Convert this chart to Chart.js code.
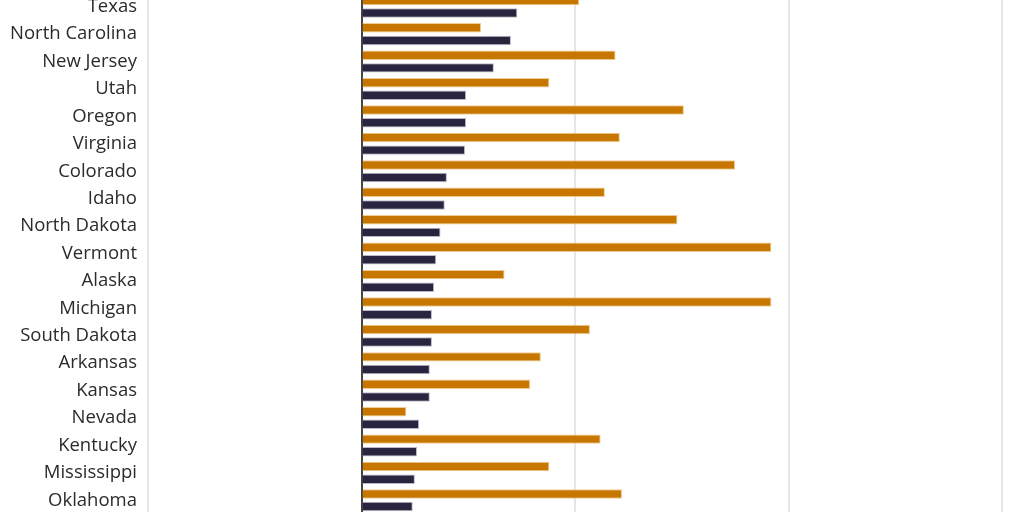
<!DOCTYPE html>
<html>
<head>
<meta charset="utf-8">
<script src="https://cdn.jsdelivr.net/npm/chart.js@4"></script>
<style>
  html, body { margin: 0; padding: 0; background: #fff; overflow: hidden; }
  #wrap { position: absolute; left: 0; top: -7px; width: 1024px; height: 521px; }
</style>
</head>
<body>
<div id="wrap"><canvas id="chart"></canvas></div>
<script>
  const states = ['Texas', 'North Carolina', 'New Jersey', 'Utah', 'Oregon', 'Virginia', 'Colorado',
    'Idaho', 'North Dakota', 'Vermont', 'Alaska', 'Michigan', 'South Dakota', 'Arkansas', 'Kansas',
    'Nevada', 'Kentucky', 'Mississippi', 'Oklahoma'];
  const orangeValues = [10.2, 5.6, 11.9, 8.8, 15.1, 12.1, 17.5, 11.4, 14.8, 19.2, 6.7, 19.2, 10.7,
    8.4, 7.9, 2.1, 11.2, 8.8, 12.2];
  const darkValues = [7.3, 7.0, 6.2, 4.9, 4.9, 4.85, 4.0, 3.9, 3.7, 3.5, 3.4, 3.3, 3.3,
    3.2, 3.2, 2.7, 2.6, 2.5, 2.4];
  const xTicks = [-10, 0, 10, 20, 30];

  const ctx = document.getElementById('chart').getContext('2d');
  new Chart(ctx, {
    type: 'bar',
    data: {
      labels: states,
      datasets: [
        {
          label: 'Series 1',
          data: orangeValues,
          backgroundColor: '#c77700',
          borderColor: 'rgba(236, 190, 120, 0.8)',
          borderWidth: 1,
          categoryPercentage: 0.92,
          barPercentage: 0.75
        },
        {
          label: 'Series 2',
          data: darkValues,
          backgroundColor: '#29243f',
          borderColor: 'rgba(170, 166, 188, 0.8)',
          borderWidth: 1,
          categoryPercentage: 0.92,
          barPercentage: 0.75
        }
      ]
    },
    options: {
      indexAxis: 'y',
      responsive: true,
      maintainAspectRatio: false,
      animation: false,
      layout: { padding: { left: 0, right: 22, top: 0, bottom: 0 } },
      scales: {
        x: {
          min: xTicks[0],
          max: xTicks[xTicks.length - 1],
          afterBuildTicks: (scale) => { scale.ticks = xTicks.map(v => ({ value: v })); },
          afterFit: (scale) => {
            scale.height = 0;
            scale.paddingLeft = 0;
            scale.paddingRight = 0;
          },
          ticks: { display: false },
          border: { display: false },
          grid: {
            drawTicks: false,
            lineWidth: 2,
            color: (c) => (c.tick && c.tick.value === 0 ? '#444444' : '#e6e6e6')
          }
        },
        y: {
          afterFit: (scale) => {
            scale.width = 148;
            scale.paddingTop = 0;
            scale.paddingBottom = 0;
          },
          grid: { display: false, drawTicks: false },
          border: { display: false },
          ticks: {
            padding: 11,
            color: '#2b2b2b',
            font: { family: 'Open Sans', size: 18.5 }
          }
        }
      },
      plugins: {
        legend: { display: false },
        tooltip: { enabled: false }
      }
    }
  });
</script>
</body>
</html>
